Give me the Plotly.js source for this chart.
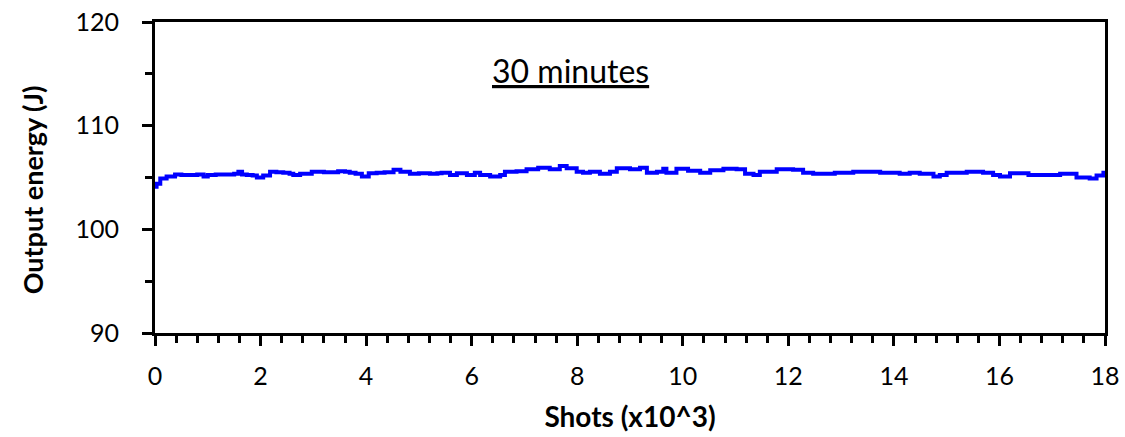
<!DOCTYPE html>
<html>
<head>
<meta charset="utf-8">
<script src="https://cdn.plot.ly/plotly-3.0.1.min.js"></script>
<style>
  html, body { margin: 0; padding: 0; background: #ffffff; }
  #chart { width: 1125px; height: 437px; }
</style>
</head>
<body>
<div id="chart"></div>
<script>
// Laser output energy over an 18,000-shot run (30 minutes)
const shots = [
  0, 0.03, 0.1, 0.22, 0.38, 0.5, 0.7, 0.8, 0.92, 1.0, 1.15, 1.33, 1.5, 1.58, 1.65, 1.74, 1.85, 1.93,
  2.05, 2.18, 2.3, 2.43, 2.55, 2.62, 2.75, 2.97, 3.2, 3.47, 3.6, 3.69, 3.8, 3.92,
  4.05, 4.2, 4.35, 4.52, 4.65, 4.83, 5.0, 5.21, 5.35, 5.43, 5.59, 5.72, 5.91,
  6.06, 6.16, 6.35, 6.54, 6.63, 6.85, 7.04, 7.26, 7.48, 7.67, 7.8, 7.99,
  8.11, 8.24, 8.43, 8.62, 8.75, 9.0, 9.19, 9.32, 9.51, 9.63, 9.69, 9.88,
  10.1, 10.33, 10.52, 10.77, 11.02, 11.18, 11.34, 11.46, 11.78,
  12.09, 12.28, 12.47, 12.88, 13.23, 13.55, 13.74,
  14.11, 14.3, 14.49, 14.75, 14.87, 15.0, 15.38, 15.69, 15.88,
  16.01, 16.2, 16.55, 16.9, 17.15, 17.34, 17.46, 17.71, 17.84, 17.97, 18.0
];
const energyJ = [
  104.1, 104.4, 104.9, 105.1, 105.3, 105.25, 105.25, 105.3, 105.1, 105.25, 105.3, 105.3, 105.35, 105.55, 105.3, 105.25, 105.2, 105.0,
  105.2, 105.55, 105.5, 105.45, 105.35, 105.25, 105.35, 105.55, 105.5, 105.6, 105.55, 105.45, 105.35, 105.1,
  105.4, 105.45, 105.5, 105.75, 105.55, 105.35, 105.4, 105.35, 105.4, 105.45, 105.25, 105.4, 105.25,
  105.45, 105.25, 105.1, 105.25, 105.55, 105.6, 105.8, 105.95, 105.8, 106.1, 105.9, 105.55,
  105.45, 105.55, 105.35, 105.55, 105.9, 105.8, 105.95, 105.45, 105.55, 105.85, 105.45, 105.85,
  105.65, 105.45, 105.7, 105.85, 105.8, 105.35, 105.25, 105.55, 105.8,
  105.75, 105.45, 105.35, 105.45, 105.55, 105.55, 105.45,
  105.35, 105.45, 105.35, 105.1, 105.25, 105.45, 105.55, 105.45, 105.25,
  105.1, 105.4, 105.25, 105.25, 105.35, 105.35, 105.0, 104.9, 105.2, 105.45, 105.4
];
const xTickVals = [0, 2, 4, 6, 8, 10, 12, 14, 16, 18];
const yTickVals = [90, 100, 110, 120];
const runLabel = '30 minutes';
const xTitle = 'Shots (x10^3)';
const yTitle = 'Output energy (J)';

const FONT = 'Lato, "Open Sans", sans-serif';

const trace = {
  x: shots,
  y: energyJ,
  type: 'scatter',
  mode: 'lines',
  line: { color: '#0000ff', width: 4, shape: 'hv' },
  hoverinfo: 'skip'
};

const layout = {
  width: 1125,
  height: 437,
  margin: { l: 155, r: 20, t: 22, b: 104 },
  paper_bgcolor: '#ffffff',
  plot_bgcolor: '#ffffff',
  showlegend: false,
  font: { family: FONT, color: '#000000', size: 25 },
  xaxis: {
    range: [0, 18],
    tickvals: xTickVals,
    ticktext: xTickVals.map(String),
    ticks: 'outside',
    ticklen: 10,
    tickwidth: 3,
    tickcolor: '#000000',
    minor: { dtick: 0.4, ticks: 'outside', ticklen: 7, tickwidth: 3, tickcolor: '#000000', showgrid: false },
    showline: true,
    linecolor: '#000000',
    linewidth: 3,
    mirror: true,
    showgrid: false,
    zeroline: false,
    tickfont: { family: FONT, size: 25, color: '#000000' },
    ticklabelstandoff: 9,
    title: { text: '<b>' + xTitle + '</b>', font: { family: FONT, size: 28, color: '#000000' }, standoff: 19 }
  },
  yaxis: {
    range: [90, 120],
    tickvals: yTickVals,
    ticktext: yTickVals.map(String),
    ticks: 'outside',
    ticklen: 10,
    tickwidth: 3,
    tickcolor: '#000000',
    minor: { dtick: 5, ticks: 'outside', ticklen: 7, tickwidth: 3, tickcolor: '#000000', showgrid: false },
    showline: true,
    linecolor: '#000000',
    linewidth: 3,
    mirror: true,
    showgrid: false,
    zeroline: false,
    tickfont: { family: FONT, size: 25, color: '#000000' },
    ticklabelstandoff: 18
  },
  annotations: [
    {
      xref: 'paper', yref: 'paper',
      x: 0.437, y: 0.843,
      xanchor: 'center', yanchor: 'middle',
      text: '<u>' + runLabel + '</u>',
      showarrow: false,
      font: { family: FONT, size: 32, color: '#000000' }
    },
    {
      // vertical axis caption, sitting a little below the plot's mid-height
      xref: 'paper', yref: 'paper',
      x: -0.128, y: 0.46,
      xanchor: 'center', yanchor: 'middle',
      textangle: -90,
      text: '<b>' + yTitle + '</b>',
      showarrow: false,
      font: { family: FONT, size: 27, color: '#000000' }
    }
  ]
};

Plotly.newPlot('chart', [trace], layout, { staticPlot: true, displayModeBar: false });
</script>
</body>
</html>
